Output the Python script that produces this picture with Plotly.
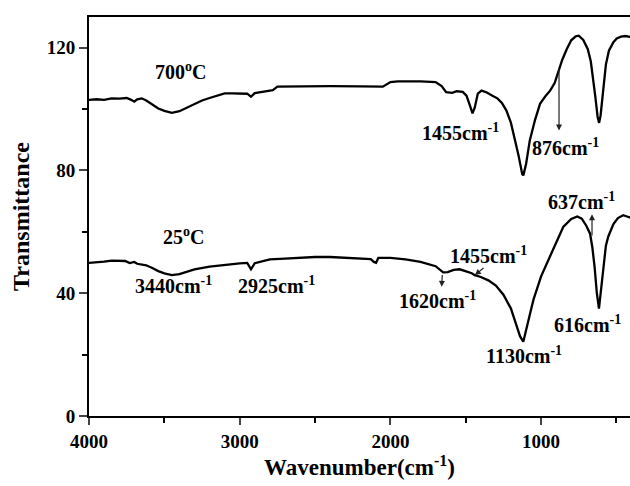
import plotly.graph_objects as go

# 700 C spectrum
w700 = [4000, 3950, 3900, 3850, 3800, 3750, 3720, 3700, 3680, 3650, 3620, 3580, 3540, 3500, 3450,
        3400, 3350, 3300, 3250, 3200, 3150, 3100, 3050, 3000, 2950, 2925, 2900, 2850, 2780, 2750,
        2600, 2400, 2200, 2100, 2050, 2000, 1950, 1800, 1700, 1660, 1630, 1590, 1560, 1520, 1495,
        1475, 1455, 1440, 1420, 1395, 1360, 1320, 1290, 1260, 1230, 1200, 1180, 1150, 1125, 1118,
        1100, 1075, 1040, 1007, 970, 940, 910, 886, 860, 830, 800, 770, 750, 720, 690, 670, 655,
        640, 625, 615, 605, 590, 570, 550, 520, 498, 470, 440, 410, 400]
t700 = [103.0, 103.2, 103.0, 103.5, 103.4, 103.6, 103.0, 102.4, 103.2, 103.5, 102.8, 101.5, 100.2, 99.4, 98.8,
        99.3, 100.5, 101.8, 102.8, 103.6, 104.4, 105.1, 105.1, 105.1, 105.0, 104.0, 105.2, 105.6, 106.2, 107.3,
        107.4, 107.5, 107.4, 107.2, 107.3, 108.8, 109.0, 109.0, 108.8, 107.5, 105.5, 105.3, 105.8, 105.6, 104.4,
        101.5, 98.6, 100.5, 105.0, 106.0, 105.4, 104.3, 103.5, 102.0, 99.5, 95.5, 91.5, 85.0, 78.8, 78.4,
        82.0, 89.8, 96.5, 101.7, 104.3, 106.0, 108.5, 112.5, 116.0, 119.5, 122.4, 123.7, 123.9, 122.5, 119.5, 115.5, 110.5,
        104.0, 97.5, 95.5, 98.0, 105.0, 114.5, 119.0, 121.8, 123.0, 123.6, 123.8, 123.5, 123.8]

# 25 C spectrum
w25 = [4000, 3950, 3900, 3850, 3800, 3760, 3730, 3700, 3680, 3650, 3620, 3580, 3540, 3500, 3450,
       3400, 3350, 3300, 3200, 3100, 3000, 2950, 2925, 2900, 2850, 2800, 2700, 2600, 2500, 2400,
       2300, 2200, 2130, 2110, 2095, 2080, 2000, 1900, 1800, 1700, 1650, 1620, 1580, 1540, 1500,
       1460, 1440, 1400, 1350, 1300, 1250, 1200, 1170, 1140, 1118, 1100, 1075, 1050, 1000, 950,
       900, 853, 800, 760, 730, 700, 675, 660, 645, 630, 616, 605, 590, 570, 554, 520, 490, 455, 430, 400]
t25 = [49.9, 50.0, 50.3, 50.6, 50.5, 50.5, 49.8, 50.2, 49.6, 49.4, 49.1, 48.2, 47.2, 46.5, 45.9,
       46.2, 47.0, 47.8, 48.7, 49.3, 49.7, 49.9, 47.8, 49.8, 50.5, 51.0, 51.3, 51.6, 51.8, 51.8,
       51.6, 51.2, 51.1, 50.2, 49.9, 51.5, 51.5, 51.0, 50.2, 48.8, 46.8, 46.9, 47.6, 47.8, 47.2,
       46.5, 45.9, 45.3, 44.2, 42.5, 39.5, 35.0, 30.5, 26.0, 24.2, 27.5, 33.0, 38.0, 45.5, 51.0,
       56.5, 61.6, 64.2, 65.0, 64.3, 62.0, 59.4, 55.0, 48.6, 40.0, 35.0, 40.0, 48.0, 55.5, 58.5, 62.5, 64.5, 65.4, 65.0, 64.5]

x_ticks = [4000, 3000, 2000, 1000]
y_ticks = [0, 40, 80, 120]

# labels: text, x, y
label_text = ["700<sup>o</sup>C", "25<sup>o</sup>C", "1455cm<sup>-1</sup>", "876cm<sup>-1</sup>",
              "3440cm<sup>-1</sup>", "2925cm<sup>-1</sup>", "1620cm<sup>-1</sup>", "1455cm<sup>-1</sup>",
              "1130cm<sup>-1</sup>", "616cm<sup>-1</sup>", "637cm<sup>-1</sup>"]
label_x = [3396, 3376, 1538, 835, 3436, 2756, 1687, 1346, 1114, 689, 729]
label_y = [112.5, 58.7, 92.5, 87.6, 42.6, 42.6, 37.7, 52.4, 19.8, 30.1, 70.2]

# arrows: head (x, y) and tail (x, y)
arrow_head_x = [881, 662, 1660, 1439]
arrow_head_y = [93.0, 65.7, 42.1, 45.9]
arrow_tail_x = [881, 662, 1655, 1372]
arrow_tail_y = [113.6, 58.3, 46.4, 48.6]

font_family = "Liberation Serif"

fig = go.Figure()
fig.add_trace(go.Scatter(x=w700, y=t700, mode="lines", line=dict(color="black", width=2.3), showlegend=False))
fig.add_trace(go.Scatter(x=w25, y=t25, mode="lines", line=dict(color="black", width=2.3), showlegend=False))

for txt, lx, ly in zip(label_text, label_x, label_y):
    fig.add_annotation(x=lx, y=ly, xref="x", yref="y", text=txt, showarrow=False,
                       font=dict(family=font_family, size=20, color="black", weight="bold"))

for hx, hy, tx, ty in zip(arrow_head_x, arrow_head_y, arrow_tail_x, arrow_tail_y):
    fig.add_annotation(x=hx, y=hy, ax=tx, ay=ty, xref="x", yref="y", axref="x", ayref="y",
                       text="", showarrow=True, arrowhead=2, arrowsize=1, arrowwidth=1.2,
                       arrowcolor="#222")

fig.update_xaxes(range=[4000, 410], tickvals=x_ticks, ticks="outside", ticklen=7, tickwidth=2,
                 showline=True, linewidth=2, linecolor="black", mirror=True, showgrid=False,
                 zeroline=False, automargin=False,
                 minor=dict(dtick=500, tick0=0, ticks="outside", ticklen=5, tickwidth=2, tickcolor="black"),
                 tickfont=dict(family=font_family, size=19, color="black", weight="bold"),
                 title=dict(text="Wavenumber(cm<sup>-1</sup>)", standoff=8,
                            font=dict(family=font_family, size=23, color="black", weight="bold")))
fig.update_yaxes(range=[0, 130], tickvals=y_ticks, ticks="outside", ticklen=8, tickwidth=2,
                 showline=True, linewidth=2, linecolor="black", mirror=False, showgrid=False,
                 zeroline=False, automargin=False,
                 minor=dict(dtick=20, tick0=0, ticks="outside", ticklen=5, tickwidth=2, tickcolor="black"),
                 tickfont=dict(family=font_family, size=19, color="black", weight="bold"),
                 title=dict(text="Transmittance", standoff=10,
                            font=dict(family=font_family, size=24, color="black", weight="bold")))

fig.update_layout(width=630, height=486, margin=dict(l=89, r=0, t=17, b=70),
                  plot_bgcolor="white", paper_bgcolor="white")

fig.write_html("out.html", config={"displayModeBar": False},
               post_script="document.body.style.margin='0';document.body.style.overflow='hidden';")
